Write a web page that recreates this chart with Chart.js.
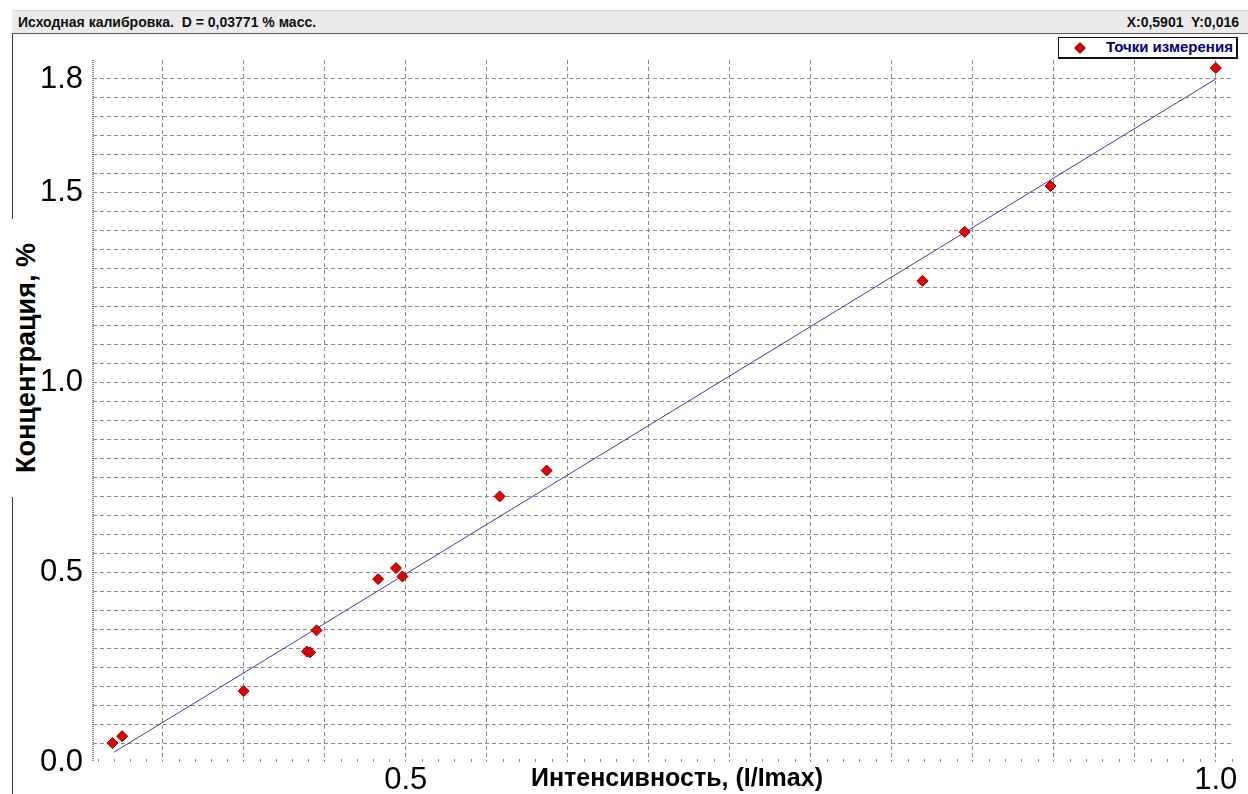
<!DOCTYPE html>
<html lang="ru">
<head>
<meta charset="utf-8">
<title>Исходная калибровка</title>
<script src="https://cdn.jsdelivr.net/npm/chart.js@4.4.1/dist/chart.umd.min.js"></script>
<style>
  html, body { margin: 0; padding: 0; background: #fff; }
  body { width: 1248px; height: 794px; position: relative; overflow: hidden; font-family: 'Liberation Sans', Arial, sans-serif; }
  .header { position: absolute; left: 12px; top: 10px; width: 1236px; height: 22px; background: #ebebeb; border-top: 1px solid #d6d6d6; border-bottom: 1px solid #5a5a5a; font-weight: bold; font-size: 14px; color: #111; }
  .header .left { position: absolute; left: 6px; top: 3px; white-space: pre; }
  .header .right { position: absolute; right: 9px; top: 3px; white-space: pre; }
  .frame-line { position: absolute; left: 12px; top: 33px; width: 1px; height: 761px; background: #333; }
  .ytitle { position: absolute; left: 26px; top: 358px; transform: translate(-50%, -50%) rotate(-90deg); font-weight: bold; font-size: 27px; line-height: 28px; white-space: nowrap; background: #fff; padding: 0 24px; color: #000; }
  .xtitle { position: absolute; left: 677px; top: 777px; transform: translate(-50%, -50%); font-weight: bold; font-size: 25px; line-height: 30px; white-space: nowrap; color: #000; }
  #chartBox { position: absolute; left: 13px; top: 34px; width: 1235px; height: 760px; }
  .legend { position: absolute; left: 1058px; top: 37px; width: 177px; height: 19px; border: 1px solid #111; border-right-width: 2px; border-bottom-width: 2px; background: #fff; }
  .legend .mark { position: absolute; left: 17px; top: 6px; width: 6px; height: 6px; background: #e60000; border: 1px solid #7a0000; transform: rotate(45deg); }
  .legend .txt { position: absolute; left: 47px; top: 0px; font-weight: bold; font-size: 15px; color: #00007a; white-space: nowrap; }
</style>
</head>
<body>
<div class="header">
  <span class="left">Исходная калибровка.  D = 0,03771 % масс.</span>
  <span class="right">X:0,5901  Y:0,016</span>
</div>
<div class="frame-line"></div>
<div class="ytitle">Концентрация, %</div>
<div id="chartBox"><canvas id="calibChart"></canvas></div>
<div class="xtitle">Интенсивность, (I/Imax)</div>
<div class="legend"><span class="mark"></span><span class="txt">Точки измерения</span></div>

<script>
// measured points (I/Imax -> concentration, %)
const intensity = [0.319, 0.325, 0.400, 0.439, 0.441, 0.445, 0.483, 0.494, 0.498, 0.558, 0.587, 0.819, 0.845, 0.898, 1.000];
const concentration = [0.050, 0.068, 0.187, 0.291, 0.289, 0.347, 0.482, 0.511, 0.489, 0.700, 0.768, 1.268, 1.397, 1.518, 1.829];

// calibration line end points
const fitIntensity = [0.320, 1.000];
const fitConcentration = [0.026, 1.800];

// axes
const xRange = [0.307, 1.01];
const yRange = [0, 1.85];
const gridStep = 0.05;
const xLabelValues = [0.5, 1.0];
const yLabelValues = [0.0, 0.5, 1.0, 1.5, 1.8];

const legendLabel = 'Точки измерения';

function stepTicks(from, to) {
    const ticks = [];
    const first = Math.ceil(from / gridStep - 1e-6);
    const last = Math.floor(to / gridStep + 1e-6);
    for (let i = first; i <= last; i++) {
        ticks.push({ value: Math.round(i * gridStep * 100) / 100 });
    }
    return ticks;
}

function labelFor(list) {
    return function(value) {
        return list.some(v => Math.abs(v - value) < 1e-6) ? Number(value).toFixed(1) : '';
    };
}

// dotted left edge and small minor marks along the bottom
const edgeMarks = {
    id: 'edgeMarks',
    beforeDatasetsDraw(chart) {
        const { ctx, chartArea, scales } = chart;
        ctx.save();
        ctx.strokeStyle = '#8a8a8a';
        ctx.lineWidth = 2;
        ctx.setLineDash([1, 1]);
        ctx.beginPath();
        ctx.moveTo(chartArea.left, chartArea.top);
        ctx.lineTo(chartArea.left, chartArea.bottom);
        ctx.stroke();

        ctx.setLineDash([]);
        ctx.lineWidth = 1;
        ctx.beginPath();
        const start = Math.ceil(scales.x.min * 100);
        const end = Math.floor(scales.x.max * 100);
        for (let i = start; i <= end; i++) {
            if (i % 5 === 0) continue;
            const px = Math.round(scales.x.getPixelForValue(i / 100)) + 0.5;
            ctx.moveTo(px, chartArea.bottom - 3);
            ctx.lineTo(px, chartArea.bottom);
        }
        ctx.stroke();
        ctx.restore();
    }
};

const gridColor = '#8a8a8a';

const ctx = document.getElementById('calibChart');
new Chart(ctx, {
    type: 'scatter',
    data: {
        datasets: [{
            label: 'Градуировка',
            data: fitIntensity.map((x, i) => ({ x: x, y: fitConcentration[i] })),
            showLine: true,
            borderColor: '#3c3caa',
            borderWidth: 1,
            pointRadius: 0,
            order: 2
        }, {
            label: legendLabel,
            data: intensity.map((x, i) => ({ x: x, y: concentration[i] })),
            pointStyle: 'rectRot',
            pointRadius: 5.5,
            backgroundColor: '#e60000',
            borderColor: '#7a0000',
            borderWidth: 1,
            order: 1
        }]
    },
    options: {
        responsive: true,
        maintainAspectRatio: false,
        animation: false,
        layout: {
            padding: { top: 26, right: 16, bottom: 0, left: 0 }
        },
        plugins: {
            legend: { display: false },
            tooltip: { enabled: false }
        },
        scales: {
            x: {
                type: 'linear',
                min: xRange[0],
                max: xRange[1],
                afterBuildTicks: scale => { scale.ticks = stepTicks(xRange[0], xRange[1]); },
                afterFit: scale => { scale.height = 32; },
                ticks: {
                    autoSkip: false,
                    maxRotation: 0,
                    padding: 3,
                    color: '#000',
                    font: { family: "'Liberation Sans', Arial, sans-serif", size: 31, lineHeight: 1 },
                    callback: labelFor(xLabelValues)
                },
                grid: {
                    color: gridColor,
                    lineWidth: 1,
                    drawTicks: false
                },
                border: { display: false, dash: [4, 3] }
            },
            y: {
                type: 'linear',
                min: yRange[0],
                max: yRange[1],
                afterBuildTicks: scale => { scale.ticks = stepTicks(yRange[0], 1.8); },
                afterFit: scale => { scale.width = 80; },
                ticks: {
                    autoSkip: false,
                    padding: 10,
                    color: '#000',
                    font: { family: "'Liberation Sans', Arial, sans-serif", size: 31, lineHeight: 1 },
                    callback: labelFor(yLabelValues)
                },
                grid: {
                    color: c => (c.tick && c.tick.value === 0) ? 'rgba(0,0,0,0)' : gridColor,
                    lineWidth: 1,
                    drawTicks: false
                },
                border: { display: false, dash: [4, 3] }
            }
        }
    },
    plugins: [edgeMarks]
});
</script>
</body>
</html>
